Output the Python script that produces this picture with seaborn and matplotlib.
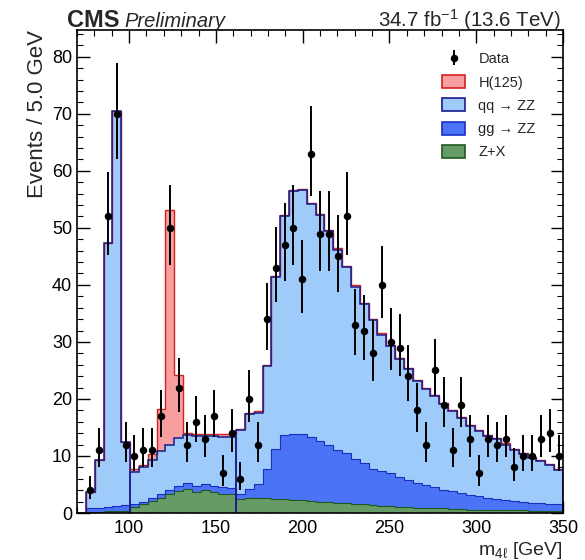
import numpy as np
import pandas as pd
import matplotlib
matplotlib.use("Agg")
import matplotlib.pyplot as plt
import seaborn as sns
from matplotlib.patches import Patch
from matplotlib.ticker import MultipleLocator

# ---------------- data: 55 equal bins spanning 70-350 GeV ----------------
m_low, m_high, n_bins = 70, 350, 55
segment_breaks = [0, 6, 18, 55]  # bin-edge indices where the outline is split

data_counts = [np.nan, 4, 11, 52, 70, 12, 10, 11, 11, 17,
               50, 22, 12, 16, 13, 17, 7, 14, 6, 20,
               12, 34, 43, 47, 50, 41, 63, 49, 49, 45,
               52, 33, 32, 28, 40, 30, 29, 24, 18, 12,
               25, 19, 11, 19, 13, 7, 13, 12, 13, 8,
               10, 10, 13, 14, 10]

h125 = [0, 0, 0, 0, 0, 0, 0.5, 0.4, 1.0, 7.4,
        41.2, 11.0, 0.4, 0.4, 0.4, 0.4, 0.4, 0.4, 0.2, 0.2,
        0.2, 0.2, 0.2, 0.2, 0.2, 0.2, 0.2, 0.2, 0.2, 0.2,
        0.2, 0.2, 0.2, 0.2, 0.2, 0.2, 0.2, 0.2, 0.2, 0.2,
        0.2, 0.2, 0.2, 0.2, 0.2, 0.2, 0.2, 0.2, 0.2, 0.2,
        0.2, 0.2, 0.2, 0.2, 0.2]

qqzz = [0, 2.9, 8.4, 46.3, 69.3, 11.1, 5.7, 6.0, 6.7, 7.5,
        8.0, 8.5, 8.4, 8.8, 8.5, 8.8, 8.8, 9.0, 11.2, 13.2,
        12.6, 18.0, 30.0, 38.4, 42.5, 42.7, 40.7, 39.7, 37.5, 35.1,
        32.6, 30.3, 27.9, 26.1, 24.0, 22.3, 20.6, 19.4, 17.9, 16.8,
        16.0, 15.1, 14.1, 13.2, 12.0, 11.5, 10.9, 10.5, 9.7, 9.0,
        8.3, 7.9, 7.4, 6.8, 6.1]

ggzz = [0, 0.6, 0.7, 0.7, 0.9, 1.1, 0.5, 0.5, 0.5, 0.6,
        0.7, 0.8, 1.0, 1.1, 1.0, 1.1, 1.2, 1.1, 0.9, 1.6,
        2.4, 5.2, 8.8, 11.3, 11.6, 11.7, 11.3, 10.6, 10.1, 9.3,
        8.8, 7.8, 7.3, 6.4, 6.0, 5.8, 5.3, 4.8, 4.4, 4.0,
        3.7, 3.2, 3.1, 2.8, 2.6, 2.3, 2.0, 1.9, 1.8, 1.6,
        1.5, 1.4, 1.3, 1.2, 1.1]

zx = [0, 0.2, 0.2, 0.3, 0.3, 0.3, 1.0, 1.5, 2.1, 2.7,
      3.3, 3.9, 4.2, 3.6, 4.0, 3.6, 3.4, 3.3, 2.4, 2.6,
      2.6, 2.6, 2.5, 2.4, 2.3, 2.2, 2.1, 2.0, 1.9, 1.8,
      1.7, 1.6, 1.5, 1.4, 1.3, 1.2, 1.1, 1.0, 0.9, 0.9,
      0.8, 0.8, 0.7, 0.7, 0.6, 0.6, 0.6, 0.5, 0.5, 0.5,
      0.5, 0.4, 0.4, 0.4, 0.4]

process_names = ["H(125)", "qq \u2192 ZZ", "gg \u2192 ZZ", "Z+X"]
fill_colors = ["#f79f9f", "#9fcbfb", "#4a73f5", "#669a66"]
edge_colors = ["#d42020", "#1a1a8c", "#1a2fc0", "#1e5a1e"]

# ---------------- style ----------------
sns.set_theme(style="ticks")
plt.rcParams["font.family"] = ["Liberation Sans", "DejaVu Sans"]
plt.rcParams["mathtext.fontset"] = "custom"
plt.rcParams["mathtext.rm"] = "Liberation Sans"
plt.rcParams["mathtext.it"] = "Liberation Sans:italic"
plt.rcParams["mathtext.default"] = "regular"

fig = plt.figure(figsize=(5.85, 5.6), dpi=100)
ax = fig.add_axes([77 / 585, 1 - 513 / 560, (563 - 77) / 585, (513 - 30) / 560])

edges = np.linspace(m_low, m_high, n_bins + 1)
centers = 0.5 * (edges[:-1] + edges[1:])
series = [h125, qqzz, ggzz, zx]

rows = []
for name, vals in zip(process_names, series):
    for c, v in zip(centers, vals):
        rows.append({"m": float(c), "w": float(v), "proc": name})
df = pd.DataFrame(rows)

sns.histplot(data=df, x="m", weights="w", hue="proc", hue_order=process_names,
             multiple="stack", bins=[float(b) for b in edges], element="step",
             palette=dict(zip(process_names, fill_colors)), alpha=1.0,
             linewidth=0, legend=False, ax=ax)

# layer outlines
zx_a = np.array(zx)
gg_top = zx_a + np.array(ggzz)
qq_top = gg_top + np.array(qqzz)
tot = qq_top + np.array(h125)
ax.stairs(zx_a, edges, color=edge_colors[3], lw=0.8)
ax.stairs(gg_top, edges, color=edge_colors[2], lw=0.8)
ax.stairs(tot, edges, color=edge_colors[0], lw=1.0)
# total outline drawn in three mass segments (as in the reference)
for i0, i1 in zip(segment_breaks[:-1], segment_breaks[1:]):
    ax.stairs(qq_top[i0:i1], edges[i0:i1 + 1], baseline=0, fill=False,
              color=edge_colors[1], lw=1.1)

# data points with Poisson-like asymmetric errors
d = np.array(data_counts, dtype=float)
err_up = np.sqrt(d + 0.25) + 0.5
err_dn = np.sqrt(d + 0.25) - 0.5
eb = ax.errorbar(centers, d, yerr=[err_dn, err_up], fmt="o", color="black",
                 ms=4.4, elinewidth=1.4, capsize=0, zorder=10)

# axes
ax.set_xlim(m_low, m_high)
ax.set_ylim(0, 84.7)
ax.xaxis.set_major_locator(MultipleLocator(50))
ax.xaxis.set_minor_locator(MultipleLocator(10))
ax.yaxis.set_major_locator(MultipleLocator(10))
ax.yaxis.set_minor_locator(MultipleLocator(2))
ax.tick_params(which="both", direction="in", top=True, right=True,
               labelsize=13, colors="black")
ax.tick_params(which="major", length=9, width=1.0)
ax.tick_params(which="minor", length=4.5, width=0.8)
ax.tick_params(axis="x", pad=5)
for s in ax.spines.values():
    s.set_linewidth(1.2)
    s.set_color("black")

ax.set_xlabel("m$_{4\\ell}$ [GeV]", fontsize=14, loc="right", labelpad=2)
ax.set_ylabel("Events / 5.0 GeV", fontsize=16, loc="top", labelpad=3)

# header
fig.text(67 / 585, 1 - 27 / 560, "CMS", fontsize=17, fontweight="bold",
         ha="left", va="baseline")
fig.text(124 / 585, 1 - 27 / 560, "Preliminary", fontsize=14.5, style="italic",
         ha="left", va="baseline")
fig.text(561 / 585, 1 - 27 / 560, "34.7 fb$^{-1}$ (13.6 TeV)", fontsize=14.8,
         ha="right", va="baseline")

# legend
handles = [eb] + [Patch(facecolor=fc, edgecolor=ec, linewidth=1.2)
                  for fc, ec in zip(fill_colors, edge_colors)]
labels = ["Data"] + process_names
leg = ax.legend(handles, labels, loc="upper left",
                bbox_to_anchor=(436 / 585, 1 - 46 / 560),
                bbox_transform=fig.transFigure, frameon=False, fontsize=10.5,
                handlelength=1.6, handleheight=1.0, labelspacing=0.6,
                handletextpad=0.9, borderaxespad=0)

fig.savefig("out.png", dpi=100, facecolor="white")
